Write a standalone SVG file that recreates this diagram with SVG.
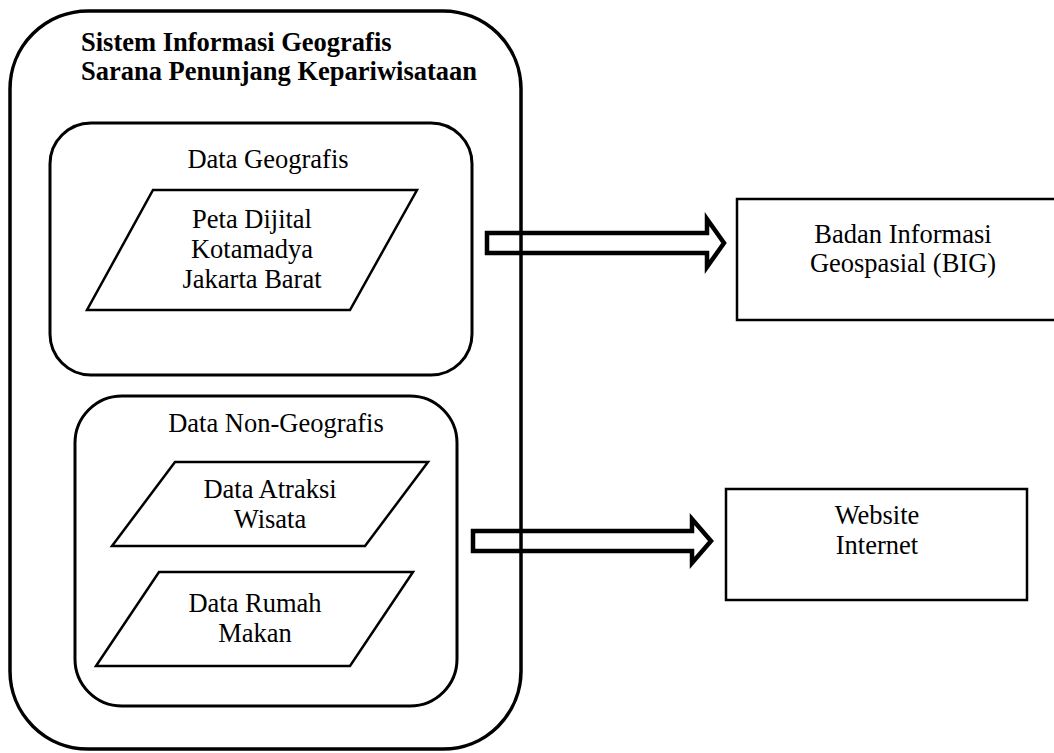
<svg xmlns="http://www.w3.org/2000/svg" width="1054" height="753" viewBox="0 0 1054 753">
  <style>
    .bg { fill: #ffffff; }
    .frame { fill: none; stroke: #000; stroke-width: 3.5; }
    .group { fill: none; stroke: #000; stroke-width: 3; }
    .data { fill: #ffffff; stroke: #000; stroke-width: 2.5; stroke-linejoin: miter; }
    .ext { fill: #ffffff; stroke: #000; stroke-width: 2.5; }
    .flow { fill: none; stroke: #000; stroke-width: 4.5; stroke-linejoin: miter; stroke-miterlimit: 10; }
    .lbl { font-family: 'Times New Roman', Times, 'Liberation Serif', Tinos, 'Noto Serif', 'DejaVu Serif', FreeSerif, serif; font-size: 26.5px; fill: #000; }
    .title { font-weight: bold; }
    .c { text-anchor: middle; }
  </style>

  <rect class="bg" x="0" y="0" width="1054" height="753"/>

  <!-- system boundary -->
  <g id="system">
    <rect class="frame" x="10" y="11" width="511" height="738" rx="78" ry="78"/>
    <text class="lbl title" x="81" y="51">Sistem Informasi Geografis</text>
    <text class="lbl title" x="81" y="80">Sarana Penunjang Kepariwisataan</text>
  </g>

  <!-- geographic data group -->
  <g id="data-geografis">
    <rect class="group" x="50" y="123" width="422" height="252" rx="41" ry="41"/>
    <text class="lbl c" x="268" y="168">Data Geografis</text>
  </g>

  <g id="peta-dijital">
    <polygon class="data" points="153,190 417,190 350,310 87,310"/>
    <text class="lbl c" x="252" y="228">Peta Dijital</text>
    <text class="lbl c" x="252" y="258">Kotamadya</text>
    <text class="lbl c" x="252" y="288">Jakarta Barat</text>
  </g>

  <!-- non-geographic data group -->
  <g id="data-non-geografis">
    <rect class="group" x="75" y="396" width="382" height="310" rx="47" ry="47"/>
    <text class="lbl c" x="276" y="432">Data Non-Geografis</text>
  </g>

  <g id="data-atraksi">
    <polygon class="data" points="175,462 428,462 365,546 112,546"/>
    <text class="lbl c" x="270" y="498">Data Atraksi</text>
    <text class="lbl c" x="270" y="528">Wisata</text>
  </g>

  <g id="data-rumah-makan">
    <polygon class="data" points="159,572 413,572 350,666 96,666"/>
    <text class="lbl c" x="255" y="612">Data Rumah</text>
    <text class="lbl c" x="255" y="642">Makan</text>
  </g>

  <!-- external sources -->
  <g id="big">
    <rect class="ext" x="737" y="199" width="333" height="121"/>
    <text class="lbl c" x="903" y="243">Badan Informasi</text>
    <text class="lbl c" x="903" y="272">Geospasial (BIG)</text>
  </g>

  <g id="website">
    <rect class="ext" x="726" y="489" width="301" height="111"/>
    <text class="lbl c" x="877" y="524">Website</text>
    <text class="lbl c" x="877" y="554">Internet</text>
  </g>

  <!-- block arrows -->
  <g id="connectors">
    <path class="flow" d="M487,233 L707,233 L707,219 L724,243 L707,267 L707,253 L487,253 Z"/>
    <path class="flow" d="M473,531 L692,531 L692,519 L711,541 L692,563 L692,551 L473,551 Z"/>
  </g>
</svg>
